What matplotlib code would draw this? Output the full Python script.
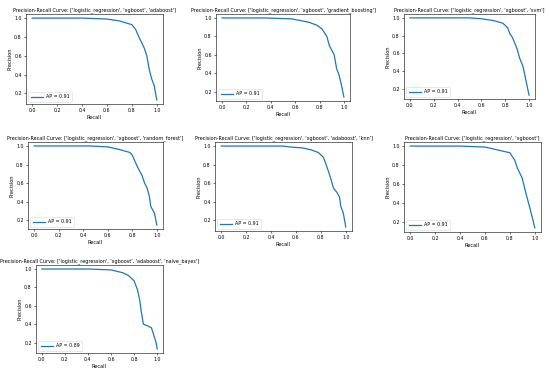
import matplotlib
matplotlib.use("Agg")
from matplotlib import pyplot as plt

# model combinations shown in each panel
titles = [
    "['logistic_regression', 'xgboost', 'adaboost']",
    "['logistic_regression', 'xgboost', 'gradient_boosting']",
    "['logistic_regression', 'xgboost', 'svm']",
    "['logistic_regression', 'xgboost', 'random_forest']",
    "['logistic_regression', 'xgboost', 'adaboost', 'knn']",
    "['logistic_regression', 'xgboost']",
    "['logistic_regression', 'xgboost', 'adaboost', 'naive_bayes']",
]
ap_scores = [0.91, 0.91, 0.91, 0.91, 0.91, 0.91, 0.89]

# precision-recall points
recall_1 = [0.0, 0.4, 0.6, 0.7, 0.8, 0.83, 0.86, 0.9, 0.92, 0.94, 0.96, 0.98, 0.99, 1.0]
precision_1 = [1.0, 1.0, 0.99, 0.97, 0.93, 0.88, 0.79, 0.68, 0.6, 0.45, 0.35, 0.28, 0.2, 0.13]

recall_2 = [0.0, 0.35, 0.57, 0.65, 0.72, 0.78, 0.82, 0.86, 0.88, 0.92, 0.94, 0.96, 0.98, 1.0]
precision_2 = [1.0, 1.0, 0.99, 0.97, 0.95, 0.92, 0.88, 0.8, 0.7, 0.6, 0.45, 0.38, 0.27, 0.14]

recall_3 = [0.0, 0.5, 0.6, 0.7, 0.78, 0.82, 0.84, 0.86, 0.9, 0.92, 0.95, 0.97, 1.0]
precision_3 = [1.0, 1.0, 0.99, 0.97, 0.94, 0.89, 0.82, 0.78, 0.65, 0.55, 0.45, 0.32, 0.13]

recall_4 = [0.0, 0.45, 0.6, 0.7, 0.78, 0.8, 0.84, 0.88, 0.9, 0.92, 0.94, 0.95, 0.98, 1.0]
precision_4 = [1.0, 1.0, 0.99, 0.96, 0.93, 0.9, 0.78, 0.68, 0.6, 0.55, 0.45, 0.35, 0.28, 0.15]

recall_5 = [0.0, 0.5, 0.55, 0.65, 0.72, 0.78, 0.82, 0.85, 0.88, 0.9, 0.93, 0.95, 0.96, 0.98, 1.0]
precision_5 = [1.0, 1.0, 0.99, 0.98, 0.96, 0.93, 0.88, 0.77, 0.65, 0.55, 0.5, 0.45, 0.35, 0.28, 0.13]

recall_6 = [0.0, 0.4, 0.6, 0.7, 0.8, 0.84, 0.86, 0.9, 0.92, 0.95, 0.98, 1.0]
precision_6 = [1.0, 1.0, 0.99, 0.96, 0.93, 0.85, 0.77, 0.66, 0.55, 0.4, 0.25, 0.14]

recall_7 = [0.0, 0.4, 0.6, 0.7, 0.75, 0.8, 0.83, 0.85, 0.86, 0.88, 0.92, 0.95, 0.97, 0.99, 1.0]
precision_7 = [1.0, 1.0, 0.99, 0.96, 0.93, 0.87, 0.77, 0.65, 0.55, 0.4, 0.38, 0.36, 0.28, 0.2, 0.13]

recalls = [recall_1, recall_2, recall_3, recall_4, recall_5, recall_6, recall_7]
precisions = [precision_1, precision_2, precision_3, precision_4, precision_5, precision_6, precision_7]

# axes boxes in pixels: left, right, top, bottom
W, H = 550, 372
boxes = [
    (26, 163, 14, 104),
    (216, 350, 14, 101),
    (404, 535, 14, 99),
    (28, 163, 142, 229),
    (215, 352, 142, 231),
    (404, 541, 142, 232),
    (36, 163, 265, 353),
]

fig = plt.figure(figsize=(W / 100, H / 100), dpi=100)

for i in range(len(titles)):
    l, r, t, b = boxes[i]
    ax = fig.add_axes([l / W, 1 - b / H, (r - l) / W, (b - t) / H])
    ax.plot(recalls[i], precisions[i], color='#1f77b4', lw=0.9,
            label='AP = %.2f' % ap_scores[i])
    ax.set_title('Precision-Recall Curve: ' + titles[i], fontsize=3.55, pad=2)
    ax.set_xlabel('Recall', fontsize=3.6, labelpad=1.5)
    ax.set_ylabel('Precision', fontsize=3.6, labelpad=1.5)
    ax.set_xticks([0.0, 0.2, 0.4, 0.6, 0.8, 1.0])
    ax.set_yticks([0.2, 0.4, 0.6, 0.8, 1.0])
    ax.tick_params(labelsize=3.4, length=1.5, width=0.4, pad=1.5)
    for s in ax.spines.values():
        s.set_linewidth(0.4)
    leg = ax.legend(loc='lower left', fontsize=3.4, handlelength=2.5,
                    borderpad=0.5, framealpha=0.8)
    leg.get_frame().set_linewidth(0.4)

fig.savefig('out.png', dpi=100)
